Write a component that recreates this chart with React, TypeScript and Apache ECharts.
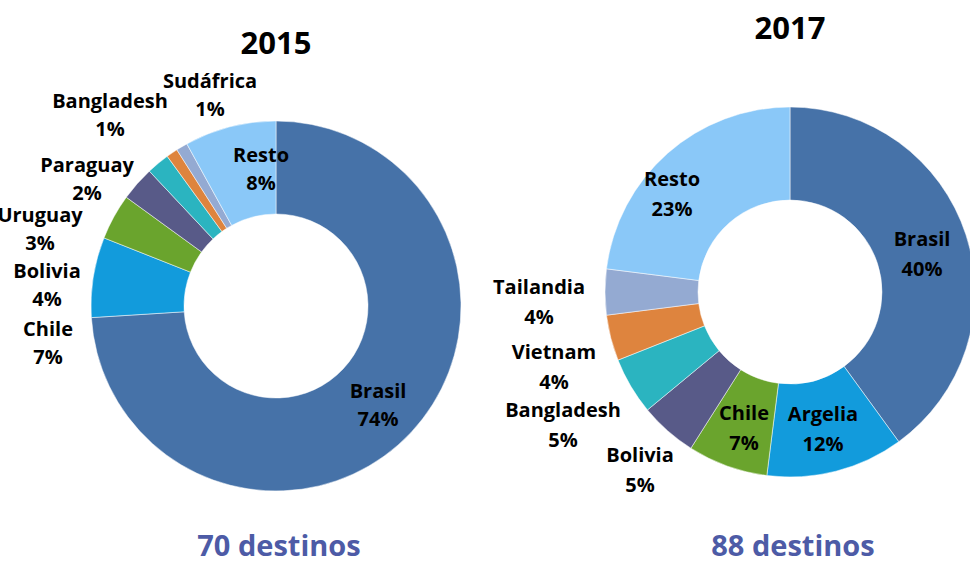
import React, { useEffect, useRef } from "react";
import * as echarts from "echarts";

const categories2015 = ["Brasil", "Chile", "Bolivia", "Uruguay", "Paraguay", "Bangladesh", "Sudáfrica", "Resto"];
const values2015 = [74, 7, 4, 3, 2, 1, 1, 8];
const categories2017 = ["Brasil", "Argelia", "Chile", "Bolivia", "Bangladesh", "Vietnam", "Tailandia", "Resto"];
const values2017 = [40, 12, 7, 5, 5, 4, 4, 23];
const years = ["2015", "2017"];
const destinos = ["70 destinos", "88 destinos"];

const PALETTE = ["#4672A8", "#129BDC", "#6AA42D", "#585A88", "#2BB4C0", "#DE843E", "#94AAD2", "#8AC8F8"];
const FONT = "'Open Sans', sans-serif";

// label anchor positions (layout only)
const LABEL_POS = [
  [[378, 404], [48, 342], [47, 284], [40, 228], [87, 178], [110, 114], [210, 94], [261, 168]],
  [[922, 253], [823, 428], [744, 427], [640, 469], [563, 424], [554, 366], [539, 301], [672, 193]],
];
const CENTERS = [[276, 306], [790, 292]];
const TITLE_Y = [42, 27];

export default function App() {
  const ref = useRef<HTMLDivElement>(null);
  useEffect(() => {
    document.body.style.margin = "0";
    const chart = echarts.init(ref.current!, null, { renderer: "svg" });
    const mk = (cats: string[], vals: number[], idx: number) => {
      const total = vals.reduce((a, b) => a + b, 0);
      return {
        type: "pie",
        center: CENTERS[idx],
        radius: [92, 185],
        startAngle: 90,
        clockwise: true,
        avoidLabelOverlap: false,
        itemStyle: { borderColor: "#ffffff", borderWidth: 0.5 },
        label: {
          show: true,
          position: "inside",
          formatter: (p: any) => `${p.name}\n${Math.round((p.value / total) * 100)}%`,
          fontFamily: FONT,
          fontWeight: "bold",
          fontSize: 20,
          lineHeight: idx === 0 ? 28 : 30,
          color: "#000",
        },
        labelLine: { show: false },
        labelLayout: (params: any) => {
          const pos = LABEL_POS[idx][params.dataIndex];
          return { x: pos[0], y: pos[1], align: "center", verticalAlign: "middle" };
        },
        data: cats.map((c, i) => ({ name: c, value: vals[i], itemStyle: { color: PALETTE[i] } })),
      };
    };
    chart.setOption({
      animation: false,
      backgroundColor: "#ffffff",
      series: [mk(categories2015, values2015, 0), mk(categories2017, values2017, 1)],
      graphic: [
        ...years.map((y, i) => ({
          type: "text",
          x: CENTERS[i][0],
          y: TITLE_Y[i],
          style: { text: y, fill: "#000", font: `bold 31px ${FONT}`, align: "center", verticalAlign: "middle" },
        })),
        ...destinos.map((d, i) => ({
          type: "text",
          x: CENTERS[i][0] + 3,
          y: 544,
          style: {
            text: d,
            fill: "#4D5BA6",
            font: `bold 29px ${FONT}`,
            lineHeight: 29,
            align: "center",
            verticalAlign: "middle",
          },
        })),
      ],
    });
    return () => chart.dispose();
  }, []);
  return <div ref={ref} style={{ width: 970, height: 563, position: "absolute", left: 0, top: 0 }} />;
}
